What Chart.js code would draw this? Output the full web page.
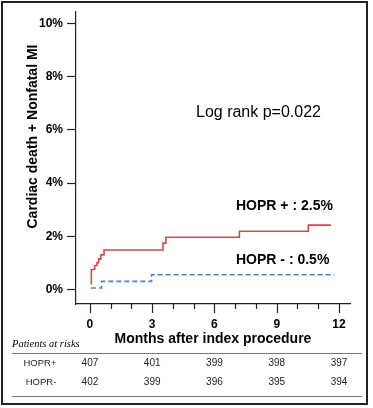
<!DOCTYPE html>
<html>
<head>
<meta charset="utf-8">
<script src="https://cdn.jsdelivr.net/npm/chart.js@4/dist/chart.umd.min.js"></script>
<style>
  html, body { margin: 0; padding: 0; background: #fff; }
  #graphCanvasKM { display: block; }
</style>
</head>
<body>
<canvas id="graphCanvasKM" width="373" height="408"></canvas>
<script>
// courbe HOPR+ (mois, % cumulé)
var moisPlus = [0.05, 0.07, 0.23, 0.34, 0.42, 0.53, 0.68, 3.52, 3.66, 7.2, 10.52, 11.61];
var tauxPlus = [0.2, 0.75, 0.9, 1.0, 1.15, 1.3, 1.48, 1.74, 1.96, 2.19, 2.42, 2.42];

// courbe HOPR-
var moisMoins = [0.05, 0.56, 2.97, 11.77];
var tauxMoins = [0.05, 0.3, 0.55, 0.55];

var yTicks = [0, 2, 4, 6, 8, 10];
var xTicks = [0, 1, 2, 3, 4, 5, 6, 7, 8, 9, 10, 11, 12];

// patients à risque
var moisRisque = [0, 3, 6, 9, 12];
var risquePlus = [407, 401, 399, 398, 397];
var risqueMoins = [402, 399, 396, 395, 394];

function points(xs, ys) {
  var out = [];
  for (var i = 0; i < xs.length; i++) {
    out.push({x: xs[i], y: ys[i]});
  }
  return out;
}

/**
* Plugin qui dessine le cadre, les petites graduations, les textes et le tableau
*/
var extras = {
  id: 'extras',
  afterDraw: function (chart) {
    var ctx = chart.ctx;
    var sx = chart.scales.x;
    ctx.save();

    // graduations x (longues tous les 3 mois)
    ctx.strokeStyle = '#222';
    ctx.lineWidth = 1.2;
    for (var i = 0; i < xTicks.length; i++) {
      var px = Math.round(sx.getPixelForValue(xTicks[i])) + 0.5;
      var len = xTicks[i] % 3 === 0 ? 9 : 5;
      ctx.beginPath();
      ctx.moveTo(px, sx.top);
      ctx.lineTo(px, sx.top + len);
      ctx.stroke();
    }

    // titre axe y
    ctx.fillStyle = '#000';
    ctx.save();
    ctx.translate(33, 136.5);
    ctx.rotate(-Math.PI / 2);
    ctx.font = 'bold 14px "Liberation Sans", Arial, sans-serif';
    ctx.textAlign = 'center';
    ctx.textBaseline = 'middle';
    ctx.fillText('Cardiac death + Nonfatal MI', 0, 0);
    ctx.restore();

    // annotations
    ctx.textBaseline = 'middle';
    ctx.textAlign = 'left';
    ctx.font = '16px "Liberation Sans", Arial, sans-serif';
    ctx.fillText('Log rank p=0.022', 196, 113);
    ctx.font = 'bold 14px "Liberation Sans", Arial, sans-serif';
    ctx.fillText('HOPR + : 2.5%', 236, 206);
    ctx.fillText('HOPR - : 0.5%', 236, 260);

    // tableau patients à risque
    ctx.font = 'italic 10.5px "Liberation Serif", "Times New Roman", serif';
    ctx.fillText('Patients at risks', 12, 344);
    ctx.strokeStyle = '#777';
    ctx.lineWidth = 1;
    ctx.beginPath();
    ctx.moveTo(12, 353.5); ctx.lineTo(362, 353.5);
    ctx.moveTo(12, 396.5); ctx.lineTo(362, 396.5);
    ctx.stroke();

    ctx.fillStyle = '#222';
    ctx.textAlign = 'center';
    ctx.font = '9.5px "Liberation Sans", Arial, sans-serif';
    ctx.fillText('HOPR+', 40, 363.5);
    ctx.fillText('HOPR-', 41, 382.5);
    ctx.font = '10px "Liberation Sans", Arial, sans-serif';
    for (var j = 0; j < moisRisque.length; j++) {
      var cx = sx.getPixelForValue(moisRisque[j]);
      ctx.fillText(String(risquePlus[j]), cx, 363.5);
      ctx.fillText(String(risqueMoins[j]), cx, 382.5);
    }

    // cadre
    ctx.strokeStyle = '#222';
    ctx.lineWidth = 2;
    ctx.strokeRect(2, 2, 365, 402);
    ctx.restore();
  }
};

var chartdata = {
  datasets: [
    {
      label: 'HOPR+',
      data: points(moisPlus, tauxPlus),
      borderColor: '#d84848',
      borderWidth: 1.6,
      stepped: true,
      pointRadius: 0,
      fill: false
    },
    {
      label: 'HOPR-',
      data: points(moisMoins, tauxMoins),
      borderColor: '#4a84cf',
      borderWidth: 1.6,
      borderDash: [5, 3],
      stepped: true,
      pointRadius: 0,
      fill: false
    }
  ]
};

var graphTarget = document.getElementById('graphCanvasKM');

var kmChart = new Chart(graphTarget, {
  type: 'line',
  data: chartdata,
  plugins: [extras],
  options: {
    responsive: false,
    animation: false,
    layout: {
      padding: {left: 0, top: 12, right: 23, bottom: 60}
    },
    plugins: {
      legend: {display: false},
      tooltip: {enabled: false}
    },
    scales: {
      x: {
        type: 'linear',
        min: -0.67,
        max: 12.53,
        afterBuildTicks: function (scale) {
          scale.ticks = xTicks.map(function (v) { return {value: v}; });
        },
        afterFit: function (scale) {
          scale.height = 44;
          scale.paddingLeft = 0;
          scale.paddingRight = 0;
        },
        ticks: {
          autoSkip: false,
          maxRotation: 0,
          padding: 13,
          color: '#000',
          font: {family: '"Liberation Sans", Arial, sans-serif', size: 12, weight: 'bold'},
          callback: function (v) { return v % 3 === 0 ? String(v) : ''; }
        },
        grid: {display: true, drawOnChartArea: false, drawTicks: false},
        border: {display: true, color: '#222', width: 1.2},
        title: {
          display: true,
          text: 'Months after index procedure',
          color: '#000',
          padding: {top: 0, bottom: 0},
          font: {family: '"Liberation Sans", Arial, sans-serif', size: 14, weight: 'bold'}
        }
      },
      y: {
        type: 'linear',
        min: -0.55,
        max: 10.44,
        afterBuildTicks: function (scale) {
          scale.ticks = yTicks.map(function (v) { return {value: v}; });
        },
        afterFit: function (scale) {
          scale.width = 76;
          scale.paddingTop = 0;
          scale.paddingBottom = 0;
        },
        ticks: {
          padding: 4,
          color: '#000',
          font: {family: '"Liberation Sans", Arial, sans-serif', size: 12, weight: 'bold'},
          callback: function (v) { return v + '%'; }
        },
        grid: {display: true, drawOnChartArea: false, drawTicks: true, tickLength: 9, color: '#222', tickWidth: 1.2},
        border: {display: true, color: '#222', width: 1.2}
      }
    }
  }
});
</script>
</body>
</html>
